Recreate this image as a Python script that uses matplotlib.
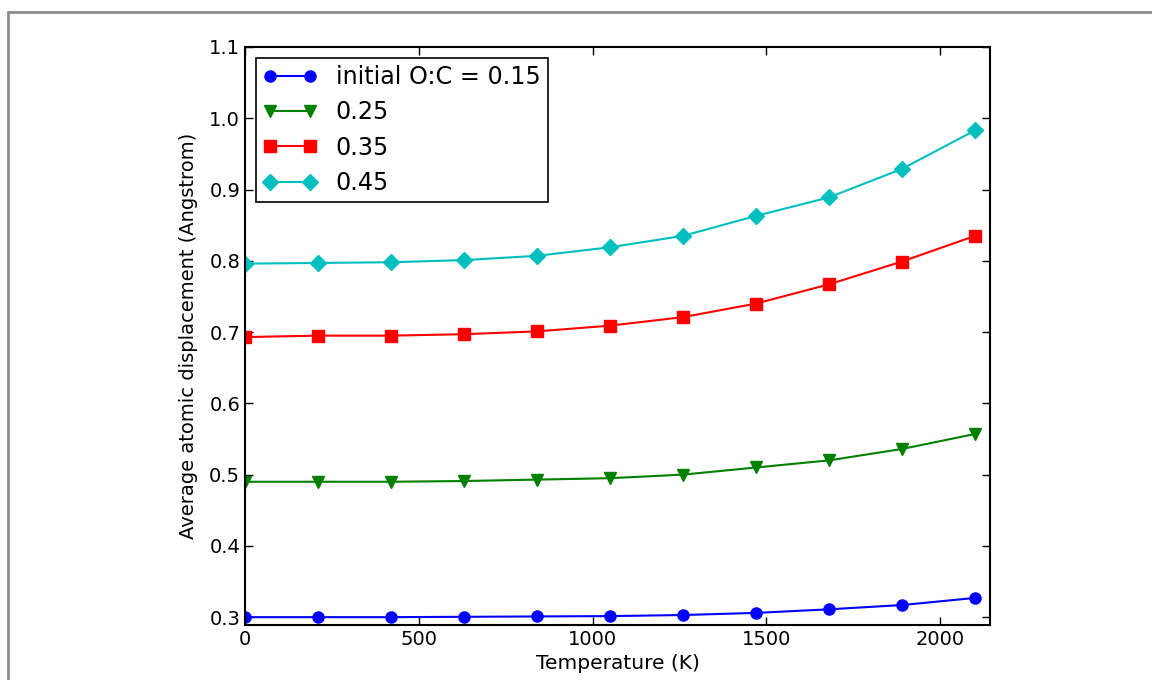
import matplotlib
matplotlib.use("Agg")
import matplotlib.pyplot as plt
from matplotlib.patches import Rectangle

# Data
temperature = [0, 210, 420, 630, 840, 1050, 1260, 1470, 1680, 1890, 2100]
oc_015 = [0.300, 0.300, 0.300, 0.3005, 0.301, 0.3015, 0.303, 0.306, 0.311, 0.317, 0.327]
oc_025 = [0.490, 0.490, 0.490, 0.491, 0.493, 0.495, 0.500, 0.510, 0.520, 0.536, 0.557]
oc_035 = [0.693, 0.695, 0.695, 0.697, 0.701, 0.709, 0.721, 0.740, 0.767, 0.799, 0.835]
oc_045 = [0.796, 0.797, 0.798, 0.801, 0.807, 0.819, 0.835, 0.863, 0.889, 0.929, 0.983]
labels = ["initial O:C = 0.15", "0.25", "0.35", "0.45"]

plt.rcParams.update({"xtick.direction": "in", "ytick.direction": "in",
                     "xtick.top": True, "ytick.right": True,
                     "xtick.major.size": 6, "ytick.major.size": 6,
                     "font.size": 14})

fig = plt.figure(figsize=(11.52, 6.8), dpi=100)
ax = fig.add_axes([245/1152, 1 - 625/680, 745/1152, 578/680])

# grey frame around the figure
fig.patches.append(Rectangle((8/1152, -0.1), 1.2, (680 - 12)/680 + 0.1, transform=fig.transFigure,
                             fill=False, edgecolor="#8c8c8c", linewidth=2))

ax.plot(temperature, oc_015, "b-o", markersize=8, markeredgecolor="b", label=labels[0])
ax.plot(temperature, oc_025, "g-v", markersize=8, markeredgecolor="g", label=labels[1])
ax.plot(temperature, oc_035, "r-s", markersize=8, markeredgecolor="r", label=labels[2])
ax.plot(temperature, oc_045, "c-D", markersize=8, markeredgecolor="c", label=labels[3])

ax.set_xlim(0, 2143)
ax.set_ylim(0.289, 1.1)
ax.set_xticks([0, 500, 1000, 1500, 2000])
ax.set_yticks([0.3, 0.4, 0.5, 0.6, 0.7, 0.8, 0.9, 1.0, 1.1])
ax.tick_params(labelsize=14, width=1)
for s in ax.spines.values():
    s.set_linewidth(1.5)
ax.set_xlabel("Temperature (K)", fontsize=14.5)
ax.set_ylabel("Average atomic displacement (Angstrom)", fontsize=14, labelpad=8)

leg = ax.legend(loc="upper left", numpoints=2, fancybox=False, framealpha=1,
                edgecolor="black", fontsize=17.2, handlelength=2.25, handletextpad=0.8,
                labelspacing=0.48, borderpad=0.3, borderaxespad=0.45)
leg.get_frame().set_linewidth(1.2)

fig.savefig("out.png", dpi=100)
